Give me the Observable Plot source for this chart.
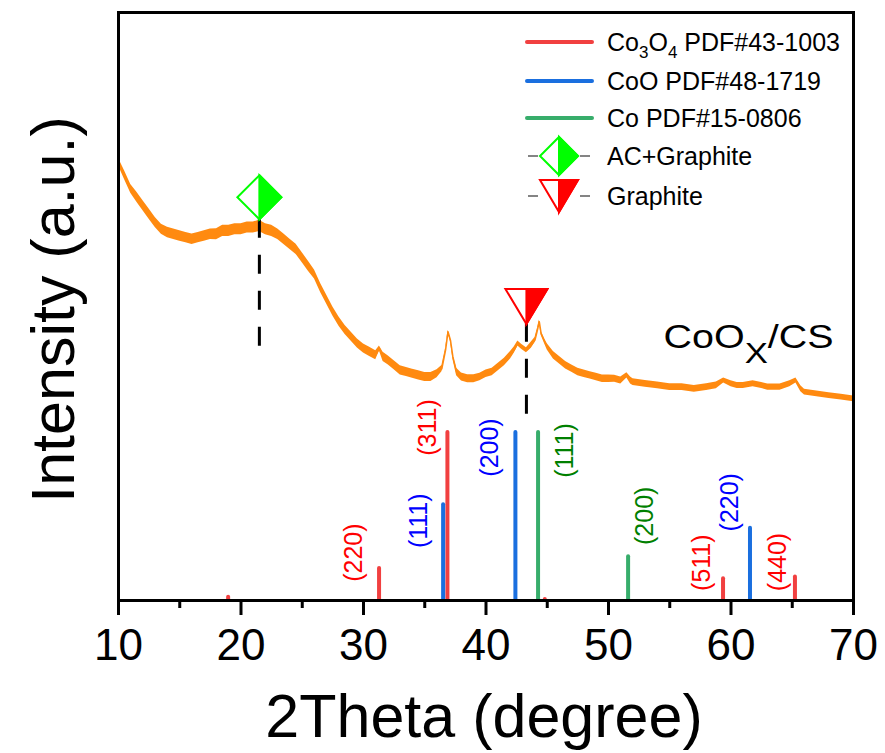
<!DOCTYPE html>
<html><head><meta charset="utf-8">
<script src="https://cdn.jsdelivr.net/npm/d3@7"></script>
<script src="https://cdn.jsdelivr.net/npm/@observablehq/plot@0.6"></script>
<style>body{margin:0;background:#fff}#chart{width:885px;height:753px}</style>
</head><body><div id="chart"></div>
<script>
// ---- data ----
const twoTheta = [10,10.5,11,11.5,12,12.5,13,13.5,14,14.5,15,15.5,16,16.5,17,17.5,18,18.5,19,19.5,20,20.5,21,21.5,22,22.5,23,23.5,24,24.5,25,25.5,26,26.5,27,27.5,28,28.5,29,29.5,30,30.5,31,31.3,31.6,32,32.5,33,33.5,34,34.5,35,35.5,36,36.4,36.7,36.9,37.1,37.3,37.6,38,38.5,39,39.5,40,40.5,41,41.5,42,42.3,42.6,42.9,43.3,43.7,44,44.2,44.35,44.5,44.8,45,45.5,46,46.5,47,47.5,48,48.5,49,49.5,50,50.5,51,51.5,51.8,52,53,54,55,56,57,58,58.8,59.4,60,60.5,61,61.8,62.5,63,64,64.8,65.3,65.7,66,67,68,69,70];
const intensity = [261,253,245,240,235,230,225,221,219,218,217,216,215,216,217,218,218,220,220,221,221,222,222,223,221,220,218,215,212,209,204,199,194,186,179,172,166,161,157,153,150,148,146,150,145,143,140,137,136,135,134,133,133,135,138,149,160,155,145,136,133,132,132,133,135,136,139,142,146,149,153,151,149,152,155,161,166,159,154,151,146,143,140,138,136,135,134,133,132,132,132,131,134,131,130,129,128,127,127,126,127,128,131,129,128,128,129,128,127,127,129,131,126,124,123,122,121,120];
// half-thickness of the noisy trace (intensity units)
const noiseBand = [2.2,2.6,2.6,3,3,3,3,3,3.1,3.1,3.1,3.1,3.1,3.1,3.1,3.1,3.3,3.3,3.3,3.3,3.3,3.3,3.3,3.3,3.3,3.3,3.1,3.1,3,3,3,3,2.7,2.7,2.7,2.7,2.7,2.7,2.7,2.7,2.7,2.7,2.7,1.5,2.7,2.7,2.7,2.7,2.7,2.7,2.7,2.7,2.7,2.4,1.9,1.1,0.9,1.1,1.5,2.2,2.4,2.4,2.4,2.2,2.2,2.2,2.2,2.2,2.2,1.9,1.5,1.5,1.5,1.9,1.5,1.1,0.9,1.1,1.5,1.9,2.2,2.2,2.2,2.2,2.2,2.2,2.2,2.2,2.2,2.2,2.1,2.1,1.5,2.1,2,2,2,2,2,2,2,2,1.5,1.8,1.8,1.8,1.8,1.8,1.8,1.8,1.8,1.5,1.8,1.7,1.7,1.7,1.7,1.7];

const co3o4Pos = [18.95, 31.27, 36.85, 44.8, 59.35, 65.22];
const co3o4Int = [2, 19, 100, 0.6, 13, 14];
const co3o4Hkl = ["", "(220)", "(311)", "", "(511)", "(440)"];
const cooPos = [36.5, 42.4, 61.55];
const cooInt = [57, 100, 43];
const cooHkl = ["(111)", "(200)", "(220)"];
const coPos = [44.25, 51.6];
const coInt = [100, 26];
const coHkl = ["(111)", "(200)"];

const phaseNames = ["Co3O4", "CoO", "Co"];
const legendLabels = ["Co3O4 PDF#43-1003", "CoO PDF#48-1719", "Co PDF#15-0806", "AC+Graphite", "Graphite"];
const markerPos = [21.5, 43.3];
const markerInt = [240, 175];
const dropTop = [227, 165];
const dropBottom = [150, 109];
const xTicks = [10, 20, 30, 40, 50, 60, 70];
const xMinorTicks = [15, 25, 35, 45, 55, 65];
const sampleLabel = ["CoOX/CS"];
const xTitle = ["2Theta (degree)"];
const yTitle = ["Intensity (a.u.)"];

// ---- styles ----
const stickColor = {Co3O4: "#F14040", CoO: "#1A6FDF", Co: "#37AD6B"};
const labelColor = {Co3O4: "#FF0000", CoO: "#0000FF", Co: "#008000"};
const labelOffset = {
  "Co3O4(220)": [-25, -16], "Co3O4(311)": [-19, -5], "Co3O4(511)": [-21, -16], "Co3O4(440)": [-17, -15],
  "CoO(111)": [-24, 16], "CoO(200)": [-25, 15], "CoO(220)": [-20, -26],
  "Co(111)": [27, 18], "Co(200)": [17, -41]
};
const FONT = "'Liberation Sans', Arial, Helvetica, sans-serif";

// ---- tables ----
const curve = twoTheta.map((x, i) => ({x, y: intensity[i], lo: intensity[i] - noiseBand[i], hi: intensity[i] + noiseBand[i]}));
const sticks = [];
[[co3o4Pos, co3o4Int, co3o4Hkl], [cooPos, cooInt, cooHkl], [coPos, coInt, coHkl]].forEach(([P, I, H], k) => {
  P.forEach((p, i) => sticks.push({phase: phaseNames[k], x: p, y: I[i], hkl: H[i]}));
});
const markers = markerPos.map((x, i) => ({x, y: markerInt[i], y1: dropTop[i], y2: dropBottom[i]}));

// custom symbols
const diamondFull = {draw(c, s) { const r = Math.sqrt(s / Math.PI); c.moveTo(0, -r); c.lineTo(r, 0); c.lineTo(0, r); c.lineTo(-r, 0); c.closePath(); }};
const diamondRight = {draw(c, s) { const r = Math.sqrt(s / Math.PI); c.moveTo(0, -r); c.lineTo(r, 0); c.lineTo(0, r); c.closePath(); }};
const triFull = {draw(c, s) { const r = Math.sqrt(s / Math.PI), h = 0.833 * r; c.moveTo(-r, -h); c.lineTo(r, -h); c.lineTo(0, h); c.closePath(); }};
const triRight = {draw(c, s) { const r = Math.sqrt(s / Math.PI), h = 0.833 * r; c.moveTo(0, -h); c.lineTo(r, -h); c.lineTo(0, h); c.closePath(); }};

const labelMarks = sticks.filter(d => d.hkl).map(d => {
  const [dx, dy] = labelOffset[d.phase + d.hkl];
  return Plot.text([d], {x: "x", y: "y", text: "hkl", rotate: -90, dx, dy, fill: labelColor[d.phase], fontSize: 25, textAnchor: "middle", lineAnchor: "middle"});
});

const chart = Plot.plot({
  width: 885, height: 753,
  marginLeft: 118, marginRight: 32, marginTop: 12, marginBottom: 153,
  style: {fontFamily: FONT, background: "white", color: "black", overflow: "visible"},
  x: {domain: [10, 70]},
  y: {domain: [0, 350], axis: null},
  marks: [
    Plot.areaY(curve, {x: "x", y1: "lo", y2: "hi", fill: "#FF8A10"}),
    Plot.line(curve, {x: "x", y: "y", stroke: "#FF8A10", strokeWidth: 1.5}),
    Plot.ruleX(sticks, {x: "x", y1: 0, y2: "y", stroke: d => stickColor[d.phase], strokeWidth: 4, strokeLinecap: "round"}),
    ...labelMarks,
    Plot.ruleX(markers, {x: "x", y1: "y1", y2: "y2", stroke: "black", strokeWidth: 3, strokeDasharray: "19,17"}),
    Plot.dot(markers.slice(0, 1), {x: "x", y: "y", r: 22, symbol: diamondFull, fill: "white", stroke: "#00FF00", strokeWidth: 2}),
    Plot.dot(markers.slice(0, 1), {x: "x", y: "y", r: 22, symbol: diamondRight, fill: "#00FF00", stroke: "#00FF00", strokeWidth: 2}),
    Plot.dot(markers.slice(1), {x: "x", y: "y", r: 21, symbol: triFull, fill: "white", stroke: "#FF0000", strokeWidth: 2}),
    Plot.dot(markers.slice(1), {x: "x", y: "y", r: 21, symbol: triRight, fill: "#FF0000", stroke: "#FF0000", strokeWidth: 2}),
    Plot.axisX({ticks: xTicks, tickSize: 15, tickPadding: 13, fontSize: 44, strokeWidth: 3, label: null, tickFormat: d => d}),
    Plot.axisX({ticks: xMinorTicks, tickSize: 8, strokeWidth: 3, text: null, label: null}),
    Plot.frame({stroke: "black", strokeWidth: 3}),
    Plot.text(sampleLabel, {frameAnchor: "right", textAnchor: "end", lineAnchor: "middle", dx: -20, dy: 31, fontSize: 33, fill: "black"}),
    Plot.text(xTitle, {frameAnchor: "bottom", textAnchor: "middle", lineAnchor: "middle", dx: -2, dy: 117, fontSize: 61, fill: "black"}),
    Plot.text(yTitle, {frameAnchor: "left", rotate: -90, textAnchor: "middle", lineAnchor: "middle", dx: -64, dy: 3, fontSize: 61, fill: "black"})
  ]
});

// post-process texts
const svg = d3.select(chart);
svg.selectAll("text").each(function() {
  const t = d3.select(this);
  if (this.textContent === sampleLabel[0]) {
    t.text(null);
    t.append("tspan").text("CoO");
    t.append("tspan").attr("font-size", 29).attr("dy", 15).text("X");
    t.append("tspan").attr("dy", -15).text("/CS");
    t.attr("textLength", 170).attr("lengthAdjust", "spacingAndGlyphs");
  }
});

// legend
const lg = svg.append("g").attr("font-family", FONT).attr("font-size", 25).attr("text-anchor", "start");
const rowsY = [42, 81, 118, 156, 196];
const lineColors = [stickColor.Co3O4, stickColor.CoO, stickColor.Co];
legendLabels.forEach((lab, i) => {
  const y = rowsY[i];
  if (i < 3) {
    lg.append("line").attr("x1", 527).attr("x2", 592).attr("y1", y).attr("y2", y)
      .attr("stroke", lineColors[i]).attr("stroke-width", 4).attr("stroke-linecap", "round");
  } else {
    lg.append("line").attr("x1", 528).attr("x2", 538).attr("y1", y).attr("y2", y).attr("stroke", "#333").attr("stroke-width", 1.2);
    lg.append("line").attr("x1", 580).attr("x2", 590).attr("y1", y).attr("y2", y).attr("stroke", "#333").attr("stroke-width", 1.2);
    const col = i === 3 ? "#00FF00" : "#FF0000";
    const r = 19;
    if (i === 3) {
      lg.append("path").attr("d", `M559,${y-r}L${559+r},${y}L559,${y+r}L${559-r},${y}Z`).attr("fill", "white").attr("stroke", col).attr("stroke-width", 2);
      lg.append("path").attr("d", `M559,${y-r}L${559+r},${y}L559,${y+r}Z`).attr("fill", col).attr("stroke", col).attr("stroke-width", 2);
    } else {
      const h = 16;
      lg.append("path").attr("d", `M${559-r},${y-h}L${559+r},${y-h}L559,${y+h}Z`).attr("fill", "white").attr("stroke", col).attr("stroke-width", 2);
      lg.append("path").attr("d", `M559,${y-h}L${559+r},${y-h}L559,${y+h}Z`).attr("fill", col).attr("stroke", col).attr("stroke-width", 2);
    }
  }
  const tx = lg.append("text").attr("x", 607).attr("y", y).attr("dy", "0.35em").attr("fill", "black");
  if (i === 0) {
    tx.append("tspan").text("Co");
    tx.append("tspan").attr("font-size", 17).attr("dy", 7).text("3");
    tx.append("tspan").attr("dy", -7).text("O");
    tx.append("tspan").attr("font-size", 17).attr("dy", 7).text("4");
    tx.append("tspan").attr("dy", -7).text(" PDF#43-1003");
  } else {
    tx.text(lab);
  }
});

document.getElementById("chart").appendChild(chart);
</script>
</body></html>
